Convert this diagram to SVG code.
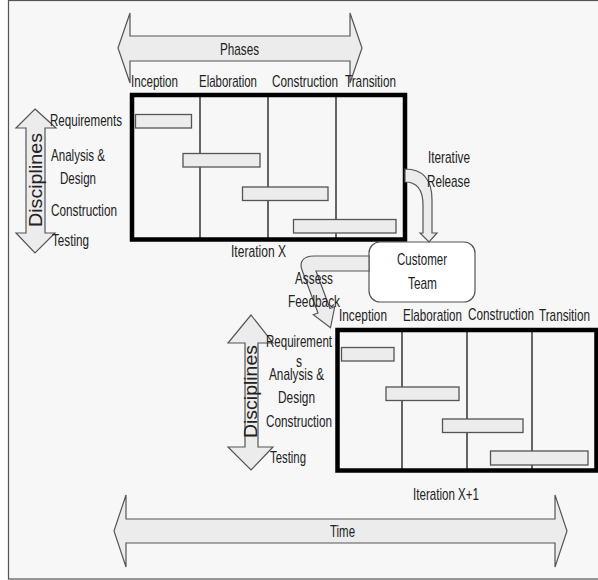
<svg xmlns="http://www.w3.org/2000/svg" width="598" height="580" viewBox="0 0 598 580">
  <style>
    .t { font-family: "Liberation Sans Narrow", "Liberation Sans", Arial, sans-serif; font-size: 17px; fill: #222; }
    .v { font-size: 18px; }
    .frame { fill: #f7f7f7; stroke: #555; stroke-width: 1.2; }
    .block { fill: #ececec; stroke: #555; stroke-width: 1.2; stroke-linejoin: miter; }
    .bar { fill: #ececec; stroke: #555; stroke-width: 1.3; }
    .box { fill: none; stroke: #000; stroke-width: 4.5; }
    .div { stroke: #333; stroke-width: 1.5; }
    .cust { fill: #fff; stroke: #555; stroke-width: 1.2; }
  </style>

  <rect x="0" y="0" width="598" height="580" fill="#fff"/>
  <rect class="frame" x="8.5" y="0.5" width="600" height="578.5"/>

  <!-- Phases block arrow -->
  <g id="phases">
    <path class="block" d="M118,48 L130,13 V36 H350 V13 L362,48 L350,83 V61 H130 V83 Z"/>
    <text class="t" x="220" y="55" textLength="39" lengthAdjust="spacingAndGlyphs">Phases</text>
  </g>

  <!-- Time block arrow -->
  <g id="time">
    <path class="block" d="M114,531 L126,495 V519 H555 V495 L567,531 L555,567 V543 H126 V567 Z"/>
    <text class="t" x="330" y="537" textLength="25" lengthAdjust="spacingAndGlyphs">Time</text>
  </g>

  <!-- Iteration X -->
  <g id="iteration-x">
    <path class="block" d="M35,109 L56,128 H45 V233 H55 L35,253 L16,233 H26 V128 H16 Z"/>
    <text class="t v" transform="translate(42,227) rotate(-90)" textLength="94" lengthAdjust="spacingAndGlyphs">Disciplines</text>

    <text class="t" x="131" y="87" textLength="47" lengthAdjust="spacingAndGlyphs">Inception</text>
    <text class="t" x="199" y="87" textLength="58" lengthAdjust="spacingAndGlyphs">Elaboration</text>
    <text class="t" x="272" y="87" textLength="66" lengthAdjust="spacingAndGlyphs">Construction</text>
    <text class="t" x="345" y="87" textLength="51" lengthAdjust="spacingAndGlyphs">Transition</text>

    <text class="t" x="50" y="126" textLength="72" lengthAdjust="spacingAndGlyphs">Requirements</text>
    <text class="t" x="51" y="161" textLength="54" lengthAdjust="spacingAndGlyphs">Analysis &amp;</text>
    <text class="t" x="60" y="184" textLength="36" lengthAdjust="spacingAndGlyphs">Design</text>
    <text class="t" x="51" y="216" textLength="66" lengthAdjust="spacingAndGlyphs">Construction</text>
    <text class="t" x="52" y="246" textLength="37" lengthAdjust="spacingAndGlyphs">Testing</text>

    <line class="div" x1="200" y1="95" x2="200" y2="239"/>
    <line class="div" x1="268" y1="95" x2="268" y2="239"/>
    <line class="div" x1="336" y1="95" x2="336" y2="239"/>
    <rect class="bar" x="135.5" y="114.5" width="56" height="13.5"/>
    <rect class="bar" x="183" y="153.5" width="77" height="13.5"/>
    <rect class="bar" x="242.5" y="187" width="85.5" height="13.5"/>
    <rect class="bar" x="293.5" y="219.5" width="102.5" height="13.5"/>
    <rect class="box" x="132" y="95" width="273" height="144.5"/>

    <text class="t" x="231" y="257" textLength="55" lengthAdjust="spacingAndGlyphs">Iteration X</text>
  </g>

  <!-- Customer Team -->
  <g id="customer-team">
    <rect class="cust" x="369" y="242" width="106" height="60" rx="11"/>
    <text class="t" x="397" y="265" textLength="50" lengthAdjust="spacingAndGlyphs">Customer</text>
    <text class="t" x="408" y="289" textLength="29" lengthAdjust="spacingAndGlyphs">Team</text>
  </g>

  <!-- Iteration X+1 -->
  <g id="iteration-x1">
    <path class="block" d="M251,315 L273,343 H258 V447 H273 L251,470 L228,447 H245 V343 H228 Z"/>
    <text class="t v" transform="translate(257,438) rotate(-90)" textLength="93" lengthAdjust="spacingAndGlyphs">Disciplines</text>

    <text class="t" x="339" y="321" textLength="48" lengthAdjust="spacingAndGlyphs">Inception</text>
    <text class="t" x="403" y="321" textLength="59" lengthAdjust="spacingAndGlyphs">Elaboration</text>
    <text class="t" x="468" y="320" textLength="66" lengthAdjust="spacingAndGlyphs">Construction</text>
    <text class="t" x="539" y="321" textLength="51" lengthAdjust="spacingAndGlyphs">Transition</text>

    <text class="t" x="266" y="347" textLength="66" lengthAdjust="spacingAndGlyphs">Requirement</text>
    <text class="t" x="296" y="367" textLength="6" lengthAdjust="spacingAndGlyphs">s</text>
    <text class="t" x="269" y="380" textLength="55" lengthAdjust="spacingAndGlyphs">Analysis &amp;</text>
    <text class="t" x="278" y="403" textLength="37" lengthAdjust="spacingAndGlyphs">Design</text>
    <text class="t" x="266" y="427" textLength="66" lengthAdjust="spacingAndGlyphs">Construction</text>
    <text class="t" x="270" y="463" textLength="36" lengthAdjust="spacingAndGlyphs">Testing</text>

    <line class="div" x1="402" y1="330" x2="402" y2="470"/>
    <line class="div" x1="467" y1="330" x2="467" y2="470"/>
    <line class="div" x1="532" y1="330" x2="532" y2="470"/>
    <rect class="bar" x="341.5" y="347.5" width="52.5" height="13.5"/>
    <rect class="bar" x="386" y="387" width="73" height="13.5"/>
    <rect class="bar" x="442.5" y="419" width="80.5" height="13.5"/>
    <rect class="bar" x="490.5" y="451" width="97.5" height="14"/>
    <rect class="box" x="337.5" y="330" width="259" height="140.5"/>

    <text class="t" x="413" y="500" textLength="66" lengthAdjust="spacingAndGlyphs">Iteration X+1</text>
  </g>

  <!-- Connectors -->
  <g id="connectors">
    <!-- Iterative Release: Iteration X to Customer Team -->
    <path class="block" d="M405,169 C423,169 432,180 432,200 V233 H437 L429,242 L420,233 H423 V205 C423,190 417,182 405,182 Z"/>
    <text class="t" x="428" y="163" textLength="42" lengthAdjust="spacingAndGlyphs">Iterative</text>
    <text class="t" x="427" y="187" textLength="43" lengthAdjust="spacingAndGlyphs">Release</text>

    <!-- Assess Feedback: Customer Team to Iteration X+1 -->
    <path class="block" d="M369,256 H314 C303,256 299,262 302,270 L318,313 L313.3,314.7 L330.5,327.8 L334.7,306.8 L330,308.5 L316,271 H369 Z"/>
    <text class="t" x="295" y="284" textLength="38" lengthAdjust="spacingAndGlyphs">Assess</text>
    <text class="t" x="288" y="307" textLength="52" lengthAdjust="spacingAndGlyphs">Feedback</text>
  </g>
</svg>
